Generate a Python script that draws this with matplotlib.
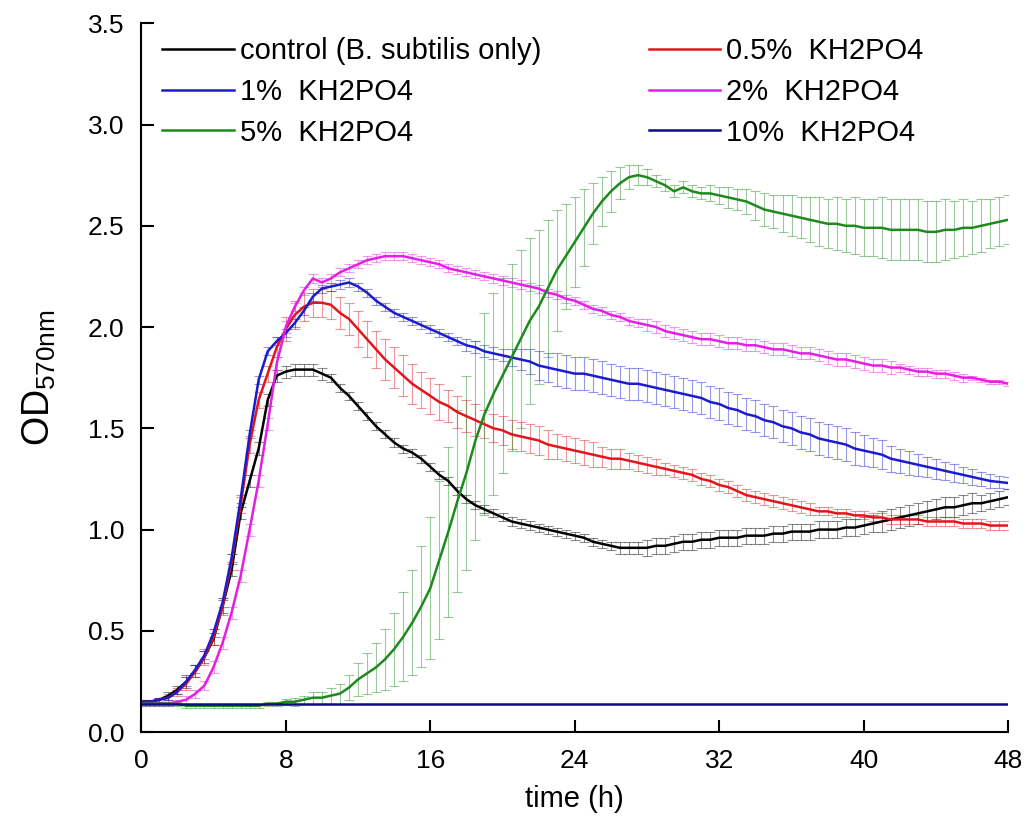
import numpy as np
import matplotlib
matplotlib.use("Agg")
import matplotlib.pyplot as plt

plt.rcParams['font.family'] = ['Liberation Sans', 'DejaVu Sans']
plt.rcParams['mathtext.default'] = 'regular'

# sampling times (h), every 0.5 h
t = np.arange(0, 48.5, 0.5)

control = [0.15, 0.15, 0.16, 0.18, 0.21, 0.25, 0.30, 0.37, 0.46, 0.62,
           0.80, 1.08, 1.24, 1.40, 1.64, 1.76, 1.78, 1.79, 1.79, 1.79,
           1.77, 1.75, 1.70, 1.66, 1.61, 1.56, 1.51, 1.47, 1.43, 1.40,
           1.38, 1.35, 1.31, 1.27, 1.24, 1.19, 1.15, 1.12, 1.10, 1.08,
           1.06, 1.04, 1.03, 1.02, 1.01, 1.00, 0.99, 0.98, 0.97, 0.96,
           0.94, 0.93, 0.92, 0.91, 0.91, 0.91, 0.91, 0.92, 0.92, 0.93,
           0.94, 0.94, 0.95, 0.95, 0.96, 0.96, 0.96, 0.97, 0.97, 0.97,
           0.98, 0.98, 0.99, 0.99, 0.99, 1.00, 1.00, 1.00, 1.01, 1.01,
           1.02, 1.03, 1.04, 1.05, 1.06, 1.07, 1.08, 1.09, 1.10, 1.11,
           1.11, 1.12, 1.13, 1.13, 1.14, 1.15,
           1.16]
control_err = [0.01, 0.01, 0.01, 0.02, 0.02, 0.03, 0.03, 0.03, 0.03, 0.03,
               0.03, 0.03, 0.03, 0.03, 0.03, 0.03, 0.03, 0.03, 0.03, 0.03,
               0.03, 0.02, 0.02, 0.02, 0.02, 0.02, 0.02, 0.02, 0.02, 0.02,
               0.02, 0.02, 0.02, 0.02, 0.02, 0.02, 0.02, 0.02, 0.02, 0.02,
               0.02, 0.02, 0.02, 0.02, 0.02, 0.02, 0.02, 0.02, 0.02, 0.02,
               0.02, 0.02, 0.02, 0.03, 0.03, 0.03, 0.04, 0.04, 0.04, 0.04,
               0.04, 0.04, 0.04, 0.04, 0.04, 0.04, 0.04, 0.04, 0.04, 0.04,
               0.04, 0.04, 0.04, 0.04, 0.04, 0.04, 0.04, 0.04, 0.04, 0.04,
               0.04, 0.04, 0.05, 0.05, 0.05, 0.05, 0.05, 0.05, 0.05, 0.05,
               0.05, 0.05, 0.05, 0.04, 0.04, 0.04,
               0.04]

kh_05 = [0.15, 0.15, 0.16, 0.17, 0.20, 0.24, 0.30, 0.37, 0.47, 0.62,
         0.84, 1.12, 1.42, 1.64, 1.77, 1.90, 1.99, 2.06, 2.10, 2.12,
         2.12, 2.11, 2.07, 2.04, 1.99, 1.94, 1.89, 1.84, 1.80, 1.76,
         1.72, 1.69, 1.66, 1.63, 1.61, 1.58, 1.56, 1.54, 1.52, 1.50,
         1.49, 1.47, 1.46, 1.45, 1.44, 1.42, 1.41, 1.40, 1.39, 1.38,
         1.37, 1.36, 1.35, 1.35, 1.34, 1.33, 1.32, 1.31, 1.30, 1.29,
         1.28, 1.27, 1.25, 1.24, 1.22, 1.21, 1.19, 1.17, 1.16, 1.15,
         1.14, 1.13, 1.12, 1.11, 1.10, 1.09, 1.09, 1.08, 1.08, 1.07,
         1.07, 1.06, 1.06, 1.05, 1.05, 1.05, 1.05, 1.04, 1.04, 1.04,
         1.04, 1.03, 1.03, 1.03, 1.02, 1.02,
         1.02]
kh_05_err = [0.01, 0.01, 0.01, 0.02, 0.02, 0.03, 0.03, 0.04, 0.04, 0.04,
             0.04, 0.04, 0.04, 0.04, 0.04, 0.05, 0.06, 0.07, 0.07, 0.07,
             0.07, 0.07, 0.08, 0.08, 0.09, 0.09, 0.09, 0.10, 0.10, 0.10,
             0.10, 0.09, 0.09, 0.09, 0.08, 0.08, 0.08, 0.08, 0.07, 0.07,
             0.07, 0.07, 0.07, 0.07, 0.07, 0.07, 0.06, 0.06, 0.06, 0.06,
             0.06, 0.05, 0.05, 0.05, 0.04, 0.04, 0.04, 0.04, 0.03, 0.03,
             0.03, 0.03, 0.03, 0.03, 0.03, 0.03, 0.03, 0.03, 0.03, 0.03,
             0.03, 0.03, 0.03, 0.03, 0.03, 0.02, 0.02, 0.02, 0.02, 0.02,
             0.02, 0.02, 0.02, 0.02, 0.02, 0.02, 0.02, 0.02, 0.02, 0.02,
             0.02, 0.02, 0.02, 0.02, 0.02, 0.02,
             0.02]

kh_1 = [0.15, 0.15, 0.16, 0.17, 0.20, 0.25, 0.31, 0.38, 0.49, 0.64,
        0.86, 1.15, 1.47, 1.74, 1.88, 1.93, 1.97, 2.02, 2.08, 2.15,
        2.19, 2.20, 2.21, 2.22, 2.20, 2.17, 2.13, 2.10, 2.07, 2.05,
        2.03, 2.01, 1.99, 1.97, 1.95, 1.93, 1.91, 1.90, 1.88, 1.87,
        1.86, 1.85, 1.84, 1.83, 1.81, 1.80, 1.79, 1.78, 1.77, 1.77,
        1.76, 1.75, 1.74, 1.73, 1.72, 1.72, 1.71, 1.70, 1.69, 1.68,
        1.67, 1.66, 1.65, 1.63, 1.62, 1.60, 1.59, 1.57, 1.56, 1.54,
        1.53, 1.51, 1.50, 1.48, 1.47, 1.45, 1.44, 1.43, 1.42, 1.40,
        1.39, 1.38, 1.37, 1.35, 1.34, 1.33, 1.32, 1.31, 1.30, 1.29,
        1.28, 1.27, 1.26, 1.25, 1.24, 1.235,
        1.23]
kh_1_err = [0.01, 0.01, 0.01, 0.01, 0.01, 0.02, 0.02, 0.02, 0.02, 0.02,
            0.02, 0.02, 0.02, 0.02, 0.02, 0.02, 0.02, 0.02, 0.02, 0.02,
            0.02, 0.02, 0.02, 0.02, 0.02, 0.02, 0.02, 0.02, 0.02, 0.02,
            0.02, 0.02, 0.02, 0.02, 0.02, 0.02, 0.03, 0.03, 0.03, 0.03,
            0.03, 0.04, 0.05, 0.06, 0.07, 0.07, 0.08, 0.08, 0.08, 0.08,
            0.08, 0.08, 0.08, 0.08, 0.08, 0.08, 0.08, 0.08, 0.08, 0.08,
            0.08, 0.08, 0.08, 0.08, 0.08, 0.08, 0.08, 0.08, 0.08, 0.08,
            0.08, 0.08, 0.08, 0.08, 0.08, 0.08, 0.08, 0.08, 0.08, 0.08,
            0.075, 0.07, 0.07, 0.065, 0.06, 0.06, 0.055, 0.05, 0.05, 0.045,
            0.045, 0.04, 0.04, 0.035, 0.035, 0.03,
            0.03]

kh_2 = [0.14, 0.14, 0.14, 0.14, 0.15, 0.16, 0.19, 0.23, 0.32, 0.44,
        0.59, 0.77, 1.00, 1.24, 1.52, 1.82, 2.00, 2.10, 2.18, 2.24,
        2.22, 2.24, 2.27, 2.29, 2.31, 2.33, 2.34, 2.35, 2.35, 2.35,
        2.34, 2.33, 2.32, 2.31, 2.29, 2.28, 2.27, 2.26, 2.25, 2.24,
        2.23, 2.22, 2.21, 2.20, 2.19, 2.17, 2.16, 2.14, 2.13, 2.11,
        2.09, 2.08, 2.06, 2.05, 2.03, 2.02, 2.01, 2.00, 1.98, 1.97,
        1.96, 1.95, 1.94, 1.94, 1.93, 1.92, 1.92, 1.91, 1.91, 1.90,
        1.89, 1.89, 1.88, 1.87, 1.87, 1.86, 1.85, 1.84, 1.84, 1.83,
        1.82, 1.81, 1.81, 1.80, 1.80, 1.79, 1.78, 1.78, 1.77, 1.77,
        1.76, 1.75, 1.75, 1.74, 1.73, 1.73,
        1.72]
kh_2_err = [0.01, 0.01, 0.01, 0.01, 0.01, 0.02, 0.02, 0.02, 0.03, 0.03,
            0.03, 0.03, 0.03, 0.03, 0.03, 0.03, 0.03, 0.02, 0.02, 0.02,
            0.02, 0.02, 0.02, 0.02, 0.02, 0.02, 0.02, 0.02, 0.02, 0.02,
            0.02, 0.02, 0.02, 0.02, 0.02, 0.02, 0.02, 0.02, 0.02, 0.02,
            0.02, 0.02, 0.02, 0.02, 0.02, 0.02, 0.02, 0.02, 0.02, 0.02,
            0.02, 0.02, 0.02, 0.02, 0.02, 0.02, 0.03, 0.03, 0.03, 0.03,
            0.03, 0.03, 0.03, 0.03, 0.03, 0.03, 0.03, 0.03, 0.03, 0.03,
            0.03, 0.03, 0.03, 0.03, 0.03, 0.03, 0.03, 0.03, 0.03, 0.03,
            0.03, 0.03, 0.03, 0.03, 0.02, 0.02, 0.02, 0.02, 0.02, 0.02,
            0.02, 0.02, 0.01, 0.01, 0.01, 0.01,
            0.01]

kh_5 = [0.14, 0.14, 0.14, 0.14, 0.14, 0.13, 0.13, 0.13, 0.13, 0.13,
        0.13, 0.13, 0.13, 0.13, 0.14, 0.14, 0.15, 0.15, 0.16, 0.17,
        0.17, 0.18, 0.19, 0.22, 0.26, 0.29, 0.32, 0.36, 0.41, 0.47,
        0.54, 0.62, 0.71, 0.85, 0.99, 1.14, 1.28, 1.44, 1.57, 1.67,
        1.76, 1.85, 1.94, 2.03, 2.10, 2.19, 2.28, 2.35, 2.42, 2.49,
        2.56, 2.62, 2.67, 2.71, 2.74, 2.75, 2.74, 2.72, 2.70, 2.67,
        2.69, 2.67, 2.66, 2.66, 2.65, 2.64, 2.63, 2.62, 2.60, 2.58,
        2.57, 2.56, 2.55, 2.54, 2.53, 2.52, 2.51, 2.51, 2.50, 2.50,
        2.49, 2.49, 2.49, 2.48, 2.48, 2.48, 2.48, 2.47, 2.47, 2.48,
        2.48, 2.49, 2.49, 2.50, 2.51, 2.52,
        2.53]
kh_5_err = [0.01, 0.01, 0.01, 0.01, 0.01, 0.01, 0.01, 0.01, 0.01, 0.01,
            0.01, 0.01, 0.01, 0.01, 0.01, 0.01, 0.015, 0.02, 0.02, 0.03,
            0.03, 0.04, 0.05, 0.06, 0.08, 0.10, 0.12, 0.15, 0.18, 0.22,
            0.26, 0.30, 0.35, 0.39, 0.42, 0.45, 0.48, 0.49, 0.50, 0.50,
            0.48, 0.46, 0.44, 0.41, 0.38, 0.34, 0.30, 0.26, 0.22, 0.19,
            0.15, 0.12, 0.10, 0.08, 0.06, 0.05, 0.04, 0.03, 0.03, 0.03,
            0.03, 0.03, 0.03, 0.04, 0.04, 0.05, 0.05, 0.06, 0.07, 0.08,
            0.08, 0.09, 0.10, 0.10, 0.11, 0.12, 0.12, 0.13, 0.13, 0.14,
            0.14, 0.14, 0.15, 0.15, 0.15, 0.15, 0.15, 0.15, 0.15, 0.15,
            0.14, 0.14, 0.13, 0.13, 0.12, 0.12,
            0.12]

# 10% KH2PO4 stays flat at the starting OD
t_10 = [0, 48]
kh_10 = [0.14, 0.14]

fig = plt.figure(figsize=(10.31, 8.31), dpi=100)
ax = fig.add_axes([0.137, 0.119, 0.841, 0.853])

series = [
    (control, control_err, 'black', 'control (B. subtilis only)'),
    (kh_05, kh_05_err, '#e0161c', '0.5%  KH2PO4'),
    (kh_1, kh_1_err, '#1c1ccc', '1%  KH2PO4'),
    (kh_2, kh_2_err, '#e41fe4', '2%  KH2PO4'),
    (kh_5, kh_5_err, '#1e8a1e', '5%  KH2PO4'),
]

handles = {}
for y, e, c, lab in series:
    ax.errorbar(t, y, yerr=e, fmt='none', ecolor=c, alpha=0.45,
                elinewidth=0.8, capsize=3.5, capthick=0.8)
for y, e, c, lab in series:
    line, = ax.plot(t, y, color=c, lw=1.8, label=lab)
    handles[lab] = line
line, = ax.plot(t_10, kh_10, color='#0c0c80', lw=1.8, label='10%  KH2PO4')
handles['10%  KH2PO4'] = line

order = ['control (B. subtilis only)', '1%  KH2PO4', '5%  KH2PO4',
         '0.5%  KH2PO4', '2%  KH2PO4', '10%  KH2PO4']
ax.legend([handles[k] for k in order], order, ncol=2, frameon=False,
          loc='upper left', bbox_to_anchor=(-0.006, 1.017), fontsize=21,
          handlelength=2.45, handletextpad=0.2, columnspacing=3.7,
          labelspacing=0.43)

ax.set_xlim(0, 48)
ax.set_ylim(0, 3.5)
ax.set_xticks([0, 8, 16, 24, 32, 40, 48])
ax.set_yticks(np.arange(0, 3.51, 0.5))
ax.set_yticklabels(['0.0', '0.5', '1.0', '1.5', '2.0', '2.5', '3.0', '3.5'])
ax.tick_params(direction='in', length=9, width=1.5, labelsize=19, pad=12)
for s in ['top', 'right']:
    ax.spines[s].set_visible(False)
for s in ['left', 'bottom']:
    ax.spines[s].set_linewidth(1.5)

ax.set_xlabel('time (h)', fontsize=21, labelpad=9)
ax.set_ylabel(r'OD$_{570nm}$', fontsize=27)
ax.yaxis.set_label_coords(-0.096, 0.5)

fig.savefig('out.png', dpi=100)
